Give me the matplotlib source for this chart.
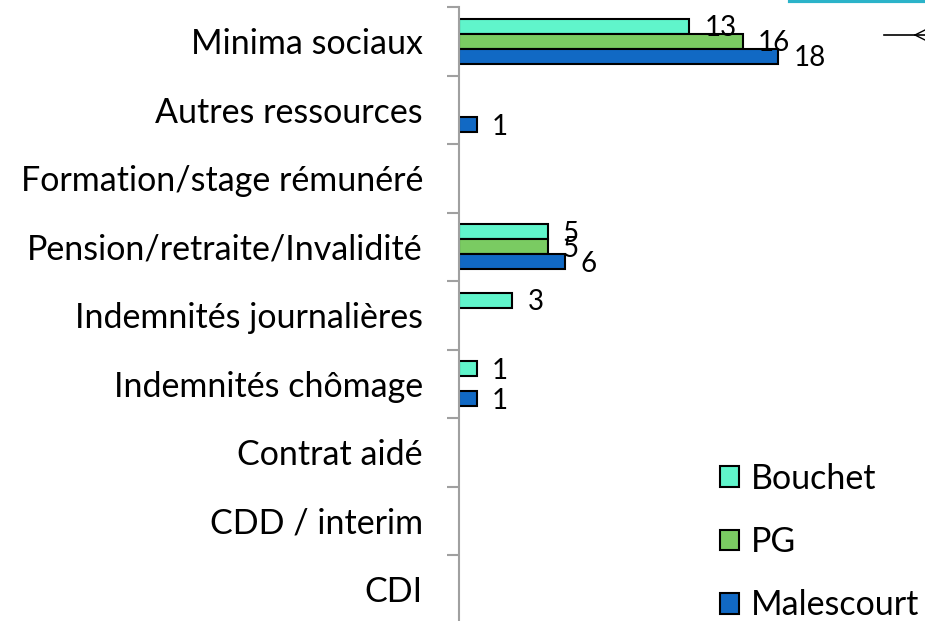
import numpy as np
import matplotlib.pyplot as plt
from matplotlib.patches import Patch

categories = ["Minima sociaux", "Autres ressources", "Formation/stage rémunéré",
              "Pension/retraite/Invalidité", "Indemnités journalières",
              "Indemnités chômage", "Contrat aidé", "CDD / interim", "CDI"]
bouchet = [13, 0, 0, 5, 3, 1, 0, 0, 0]
pg = [16, 0, 0, 5, 0, 0, 0, 0, 0]
malescourt = [18, 1, 0, 6, 0, 1, 0, 0, 0]
series_names = ["Bouchet", "PG", "Malescourt"]
colors = ["#60F5CB", "#7ACB62", "#1169C4"]

plt.rcParams['font.family'] = ['Lato', 'DejaVu Sans']

fig = plt.figure(figsize=(9.25, 6.21), dpi=100)
ax = fig.add_axes([459 / 925, -2.5 / 621, 466 / 925, 616.5 / 621])

y = np.arange(len(categories))
bh = 0.219
for vals, off, col, name in zip([bouchet, pg, malescourt], [-bh, 0, bh], colors, series_names):
    for yi, v in zip(y, vals):
        if v == 0:
            continue
        ax.barh(yi + off, v, height=bh, color=col, edgecolor="black", linewidth=1.5)
        ax.annotate(str(v), xy=(v, yi + off), xytext=(11, -1.5), textcoords="offset points",
                    ha="left", va="center", fontsize=20, color="black")

ax.set_xlim(0, 466 / 17.72)
ax.set_ylim(len(categories) - 0.5, -0.5)
ax.set_yticks(y)
ax.set_yticklabels(categories, fontsize=24.5)
ax.set_yticks(np.arange(len(categories) + 1) - 0.5, minor=True)
ax.tick_params(axis="y", which="major", length=0, pad=26)
ax.tick_params(axis="y", which="minor", length=9, width=1.5, color="#A0A0A0")
ax.set_xticks([])
for s in ["top", "right", "bottom"]:
    ax.spines[s].set_visible(False)
ax.spines["left"].set_color("#A0A0A0")
ax.spines["left"].set_linewidth(1.5)

handles = [Patch(facecolor=c, edgecolor="black", linewidth=1.5) for c in colors]
fig.legend(handles, series_names, loc="lower left", bbox_to_anchor=(706 / 925, -14 / 621),
           frameon=False, fontsize=24.5, handlelength=0.56, handleheight=0.56,
           handletextpad=0.35, labelspacing=0.92, borderaxespad=0.2, borderpad=0.2)

# cut-off shapes at the top right
fig.add_artist(plt.Line2D([790 / 925, 1.0], [1 - 1 / 621, 1 - 1 / 621], color="#2BB3C9", linewidth=3))
fig.add_artist(plt.Line2D([884 / 925, 925 / 925], [1 - 35 / 621, 1 - 35 / 621], color="black", linewidth=1.2))
fig.add_artist(plt.Line2D([915 / 925, 925 / 925], [1 - 35 / 621, 1 - 30 / 621], color="black", linewidth=1.0))
fig.add_artist(plt.Line2D([915 / 925, 925 / 925], [1 - 35 / 621, 1 - 40 / 621], color="black", linewidth=1.0))

fig.savefig("out.png", dpi=100)
